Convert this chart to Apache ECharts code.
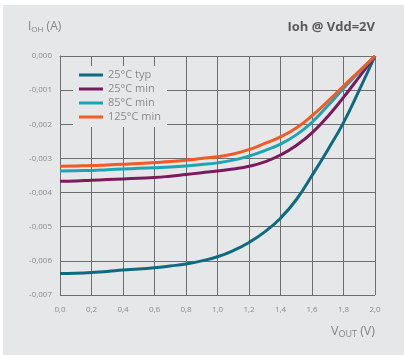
<!DOCTYPE html>
<html><head><meta charset="utf-8">
<script src="https://cdn.jsdelivr.net/npm/echarts@6/dist/echarts.min.js"></script>
<style>html,body{margin:0;padding:0;background:#fff}#c{width:404px;height:355px}</style>
</head><body><div id="c"></div>
<script>
const vout = [0.0,0.1,0.2,0.3,0.4,0.5,0.6,0.7,0.8,0.9,1.0,1.1,1.2,1.3,1.4,1.5,1.6,1.7,1.8,1.9,2.0];
const names = ['25°C typ','25°C min','85°C min','125°C min'];
const colors = ['#0e6a7f','#7b1a5c','#20a3b2','#f25a26'];
const typ25 = [-0.00637,-0.00636,-0.00634,-0.00631,-0.00627,-0.00624,-0.00620,-0.00615,-0.00609,-0.00600,-0.00588,-0.00570,-0.00546,-0.00515,-0.00475,-0.00421,-0.00350,-0.00275,-0.00195,-0.00100,0];
const min25 = [-0.00367,-0.00366,-0.00364,-0.00362,-0.00360,-0.00358,-0.00356,-0.00352,-0.00347,-0.00342,-0.00337,-0.00331,-0.00323,-0.00310,-0.00290,-0.00262,-0.00225,-0.00177,-0.00121,-0.00061,0];
const min85 = [-0.00337,-0.00336,-0.00335,-0.00333,-0.00331,-0.00329,-0.00327,-0.00325,-0.00322,-0.00318,-0.00313,-0.00305,-0.00293,-0.00277,-0.00258,-0.00231,-0.00194,-0.00146,-0.00095,-0.00047,0];
const min125 = [-0.00323,-0.00322,-0.00321,-0.00319,-0.00317,-0.00315,-0.00312,-0.00309,-0.00305,-0.00300,-0.00295,-0.00287,-0.00274,-0.00256,-0.00237,-0.00211,-0.00175,-0.00133,-0.00088,-0.00044,0];
const seriesData = [typ25, min25, min85, min125];
const yTicks = {min:-0.007, max:0, step:0.001};
const xTicks = {min:0, max:2, step:0.2};

const chart = echarts.init(document.getElementById('c'));
const font = 'Open Sans';
chart.setOption({
  animation:false,
  backgroundColor:'#fff',
  graphic:[
    {type:'rect', z:-10, shape:{x:3,y:5,width:401,height:350}, style:{fill:'#e6e7e8'}},
    {type:'text', left:28, top:21, style:{text:'{a|I}{s|OH}{a| (A)}', rich:{a:{fontSize:12,fill:'#858585',fontFamily:font},s:{fontSize:8,fill:'#858585',fontFamily:font,padding:[5,0,0,0]}}}},
    {type:'text', right:29, top:21, style:{text:'Ioh @ Vdd=2V', fontSize:13, fontWeight:'bold', fill:'#595959', fontFamily:font}},
    {type:'text', right:29, top:325, style:{text:'{a|V}{s|OUT}{a| (V)}', rich:{a:{fontSize:12.5,fill:'#858585',fontFamily:font},s:{fontSize:9,fill:'#858585',fontFamily:font,padding:[5,0,0,0]}}}}
  ],
  grid:{left:60,right:29,top:56,bottom:60},
  legend:{
    orient:'vertical', left:73, top:66, padding:[3,6,4,6], itemGap:2,
    backgroundColor:'#e6e7e8', itemWidth:24, itemHeight:3, icon:'rect',
    textStyle:{color:'#8a8a8a', fontSize:11, fontFamily:font, lineHeight:12},
    data:names
  },
  xAxis:{type:'value', min:xTicks.min, max:xTicks.max, interval:xTicks.step,
    axisLine:{show:true, lineStyle:{color:'#6e6e6e'}}, axisTick:{show:false},
    splitLine:{show:true, lineStyle:{color:'#6e6e6e', width:1}},
    axisLabel:{color:'#8a8a8a', fontSize:8, fontFamily:font, margin:11, formatter:v=>v.toFixed(1).replace('.',',')}},
  yAxis:{type:'value', min:yTicks.min, max:yTicks.max, interval:yTicks.step,
    axisLine:{show:true, lineStyle:{color:'#6e6e6e'}}, axisTick:{show:false},
    splitLine:{show:true, lineStyle:{color:'#6e6e6e', width:1}},
    axisLabel:{color:'#8a8a8a', fontSize:8, fontFamily:font, margin:8, formatter:v=>v.toFixed(3).replace('.',',')}},
  series: seriesData.map((d,i)=>({
    name:names[i], type:'line', smooth:0.5, symbol:'none',
    lineStyle:{color:colors[i], width:3}, itemStyle:{color:colors[i]},
    data:d.map((v,j)=>[vout[j], v])
  }))
});
</script></body></html>
